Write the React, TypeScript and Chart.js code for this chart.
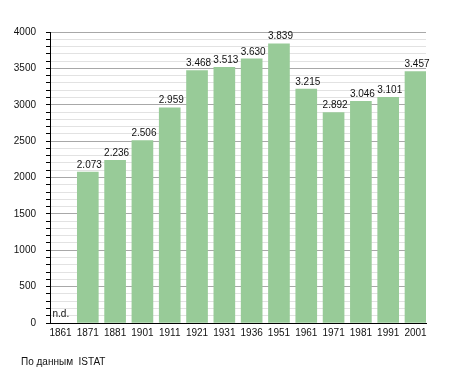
import React, { useEffect, useRef } from "react";
import { Chart, registerables } from "chart.js";

Chart.register(...registerables);

const years = ["1861", "1871", "1881", "1901", "1911", "1921", "1931", "1936", "1951", "1961", "1971", "1981", "1991", "2001"];
const population: (number | null)[] = [null, 2073, 2236, 2506, 2959, 3468, 3513, 3630, 3839, 3215, 2892, 3046, 3101, 3457];
const yMax = 4000;
const missingLabel = "n.d.";
const sourceText = "По данным  ISTAT";

const FONT = "'Liberation Sans', Arial, sans-serif";

const fmt = (v: number) => String(v).replace(/\B(?=(\d{3})+(?!\d))/g, ".");

export default function App() {
  const ref = useRef<HTMLCanvasElement>(null);

  useEffect(() => {
    if (!ref.current) return;
    const labelsPlugin = {
      id: "valueLabels",
      afterDatasetsDraw(chart: any) {
        const ctx = chart.ctx;
        const meta = chart.getDatasetMeta(0);
        ctx.save();
        ctx.font = `10px ${FONT}`;
        ctx.fillStyle = "#111";
        ctx.textAlign = "left";
        ctx.textBaseline = "bottom";
        const xs = chart.scales.x;
        const ys = chart.scales.y;
        population.forEach((v, i) => {
          const cx = xs.getPixelForValue(i);
          if (v == null) {
            ctx.fillText(missingLabel, cx - 8, ys.getPixelForValue(0) - 4);
          } else {
            const el = meta.data[i];
            ctx.fillText(fmt(v), cx - 11, el.y - 2);
          }
        });
        ctx.restore();
      },
    };

    const chart = new Chart(ref.current, {
      type: "bar",
      data: {
        datasets: [
          {
            data: population.map((v, i) => ({ x: i, y: v })) as any,
            backgroundColor: "#98cb98",
            barThickness: 21,
          },
        ],
      },
      options: {
        animation: false,
        responsive: false,
        maintainAspectRatio: false,
        layout: { padding: { left: 0, right: 29, top: 32, bottom: 0 } },
        plugins: { legend: { display: false }, tooltip: { enabled: false } },
        scales: {
          x: {
            type: "linear",
            offset: false,
            min: -0.3845,
            max: 13.3845,
            afterBuildTicks: (scale: any) => {
              scale.ticks = years.map((_, i) => ({ value: i }));
            },
            afterFit: (scale: any) => {
              scale.height = 50;
            },
            grid: { display: false, drawTicks: false, offset: false },
            border: { color: "#000", width: 1 },
            ticks: {
              autoSkip: false,
              maxRotation: 0,
              padding: 4,
              color: "#111",
              font: { family: FONT, size: 10 },
              callback: (v: any) => years[v] ?? "",
            },
          },
          y: {
            min: 0,
            max: yMax,
            afterFit: (scale: any) => {
              scale.width = 50;
            },
            afterBuildTicks: (scale: any) => {
              const t = [];
              for (let v = 0; v <= yMax; v += 100) t.push({ value: v });
              scale.ticks = t;
            },
            border: { color: "#000", width: 1 },
            grid: {
              color: (c: any) => (c.tick && c.tick.value % 500 === 0 ? "#a8a8a8" : "#e2e2e2"),
              tickColor: "#000",
              tickLength: 4,
            },
            ticks: {
              autoSkip: false,
              padding: 10,
              color: "#111",
              font: { family: FONT, size: 10 },
              callback: (v: any) => (Number(v) % 500 === 0 ? String(v) : ""),
            },
          },
        },
      },
      plugins: [labelsPlugin],
    });
    return () => chart.destroy();
  }, []);

  return (
    <div style={{ position: "fixed", left: 0, top: 0, width: 455, height: 373, background: "#fff" }}>
      <canvas ref={ref} width={455} height={373} style={{ display: "block" }} />
      <div
        style={{
          position: "absolute",
          left: 21,
          top: 356,
          fontFamily: FONT,
          fontSize: 10,
          whiteSpace: "pre",
          color: "#111",
        }}
      >
        {sourceText}
      </div>
    </div>
  );
}
